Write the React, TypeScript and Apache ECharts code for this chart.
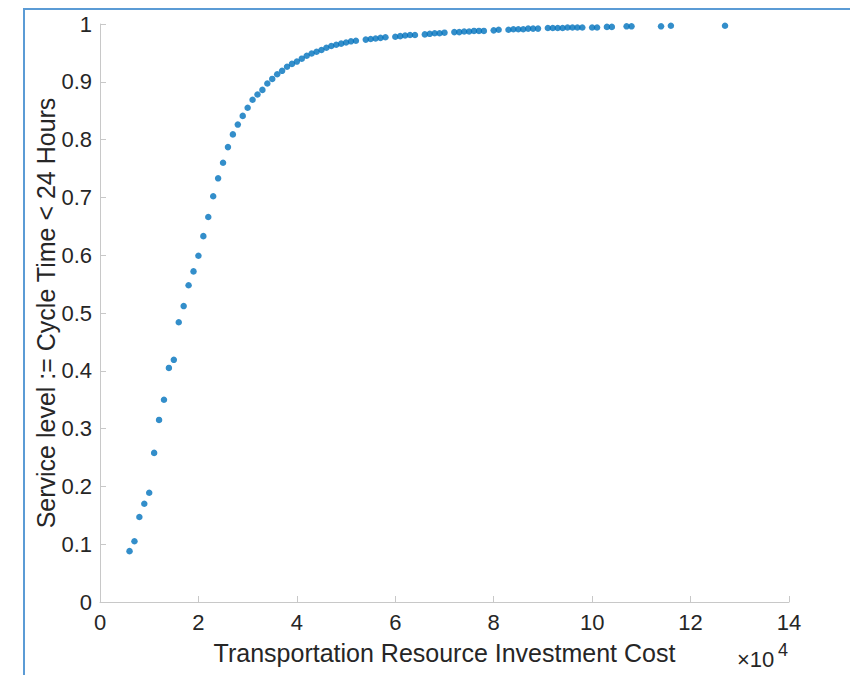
import React, { useEffect, useRef } from "react";
import * as echarts from "echarts";

// Transportation resource investment cost (raw units; axis shows ×10^4)
const investmentCost = [
  6000, 7000, 8000, 9000, 10000, 11000, 12000, 13000, 14000, 15000,
  16000, 17000, 18000, 19000, 20000, 21000, 22000, 23000, 24000, 25000,
  26000, 27000, 28000, 29000, 30000, 31000, 32000, 33000, 34000, 35000,
  36000, 37000, 38000, 39000, 40000, 41000, 42000, 43000, 44000, 45000,
  46000, 47000, 48000, 49000, 50000, 51000, 52000,
  54000, 55000, 56000, 57000, 58000,
  60000, 61000, 62000, 63000, 64000,
  66000, 67000, 68000, 69000, 70000,
  72000, 73000, 74000, 75000, 76000, 77000, 78000,
  80000, 81000,
  83000, 84000, 85000, 86000, 87000, 88000, 89000,
  91000, 92000, 93000, 94000, 95000, 96000, 97000, 98000,
  100000, 101000,
  103000, 104000,
  107000, 108000,
  114000, 116000, 127000,
];

// Service level := Cycle Time < 24 Hours
const serviceLevel = [
  0.088, 0.105, 0.147, 0.170, 0.189, 0.258, 0.315, 0.350, 0.405, 0.419,
  0.484, 0.512, 0.548, 0.572, 0.599, 0.633, 0.666, 0.702, 0.733, 0.760,
  0.787, 0.809, 0.826, 0.841, 0.855, 0.869, 0.878, 0.886, 0.897, 0.905,
  0.913, 0.919, 0.926, 0.931, 0.935, 0.940, 0.945, 0.949, 0.952, 0.955,
  0.959, 0.962, 0.964, 0.966, 0.968, 0.970, 0.971,
  0.973, 0.974, 0.975, 0.976, 0.977,
  0.978, 0.979, 0.980, 0.981, 0.981,
  0.982, 0.983, 0.984, 0.984, 0.985,
  0.986, 0.986, 0.987, 0.987, 0.988, 0.988, 0.988,
  0.989, 0.990,
  0.990, 0.991, 0.991, 0.991, 0.992, 0.992, 0.992,
  0.993, 0.993, 0.993, 0.993, 0.994, 0.994, 0.994, 0.994,
  0.994, 0.994,
  0.995, 0.995,
  0.996, 0.996,
  0.996, 0.997, 0.997,
];

const xAxisTitle = "Transportation Resource Investment Cost";
const yAxisTitle = "Service level := Cycle Time < 24 Hours";
const xExponentBase = "×10";
const xExponent = "4";

const FONT = "'Liberation Sans', Arial, Helvetica, sans-serif";
const TEXT = "#262626";
const AXIS = "#c8c8c8";
const FRAME = "#5b9bd5";

export default function App() {
  const ref = useRef<HTMLDivElement>(null);

  useEffect(() => {
    if (!ref.current) return;
    const chart = echarts.init(ref.current, undefined, { renderer: "svg" });
    const data = investmentCost.map((c, i) => [c, serviceLevel[i]]);
    chart.setOption({
      animation: false,
      backgroundColor: "#ffffff",
      textStyle: { fontFamily: FONT },
      grid: { left: 100, right: 61, top: 24, bottom: 73, containLabel: false },
      xAxis: {
        type: "value",
        min: 0,
        max: 140000,
        interval: 20000,
        name: xAxisTitle,
        nameLocation: "middle",
        nameGap: 38,
        nameMoveOverlap: false,
        nameTextStyle: { fontSize: 25, color: TEXT, fontFamily: FONT },
        axisLine: { show: true, lineStyle: { color: AXIS, width: 1 } },
        axisTick: { show: true, inside: true, length: 6, lineStyle: { color: AXIS } },
        axisLabel: {
          fontSize: 22,
          color: TEXT,
          margin: 9,
          fontFamily: FONT,
          formatter: (v: number) => String(v / 10000),
        },
        splitLine: { show: false },
      },
      yAxis: {
        type: "value",
        min: 0,
        max: 1,
        interval: 0.1,
        name: yAxisTitle,
        nameLocation: "middle",
        nameGap: 42,
        nameMoveOverlap: false,
        nameTextStyle: { fontSize: 25, color: TEXT, fontFamily: FONT },
        axisLine: { show: true, lineStyle: { color: AXIS, width: 1 } },
        axisTick: { show: true, inside: true, length: 6, lineStyle: { color: AXIS } },
        axisLabel: {
          fontSize: 22,
          color: TEXT,
          margin: 8,
          fontFamily: FONT,
          formatter: (v: number) => String(Math.round(v * 10) / 10),
        },
        splitLine: { show: false },
      },
      series: [
        {
          type: "scatter",
          data,
          symbol: "circle",
          symbolSize: 6.5,
          itemStyle: { color: "#0072BD" },
        },
      ],
      graphic: [
        {
          type: "line",
          shape: { x1: 24, y1: 9, x2: 24, y2: 675 },
          style: { stroke: FRAME, lineWidth: 2 },
        },
        {
          type: "line",
          shape: { x1: 23, y1: 9, x2: 850, y2: 9 },
          style: { stroke: FRAME, lineWidth: 2 },
        },
        {
          type: "text",
          x: 737,
          y: 659,
          style: {
            text: xExponentBase,
            fontSize: 22,
            fill: TEXT,
            fontFamily: FONT,
            textVerticalAlign: "middle",
            verticalAlign: "middle",
          },
        },
        {
          type: "text",
          x: 778,
          y: 650,
          style: {
            text: xExponent,
            fontSize: 18,
            fill: TEXT,
            fontFamily: FONT,
            textVerticalAlign: "middle",
            verticalAlign: "middle",
          },
        },
      ],
    });
    return () => chart.dispose();
  }, []);

  return (
    <div
      ref={ref}
      style={{ position: "fixed", left: 0, top: 0, width: 850, height: 675 }}
    />
  );
}
